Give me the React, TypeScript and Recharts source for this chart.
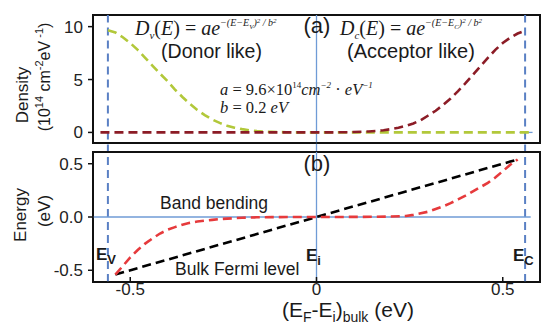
import React from 'react';
import { LineChart, Line, XAxis, YAxis, ReferenceLine, ReferenceArea } from 'recharts';

// ---- data ----
const xTicks = [-0.5, 0, 0.5];
const densityTicks = [0, 5, 10];
const energyTicks = [-0.5, 0, 0.5];
const Ev = -0.56;
const Ec = 0.56;

const donorE = [-0.56, -0.54, -0.52, -0.5, -0.48, -0.46, -0.44, -0.42, -0.4, -0.38, -0.36, -0.34, -0.32, -0.3, -0.28, -0.26, -0.24, -0.22, -0.2, -0.18, -0.16, -0.14, -0.12, -0.1, -0.08, -0.04, 0, 0.58];
const donorD = [9.65, 9.45, 9.0, 8.45, 7.8, 7.05, 6.3, 5.55, 4.85, 4.05, 3.35, 2.7, 2.12, 1.64, 1.22, 0.9, 0.64, 0.45, 0.31, 0.2, 0.13, 0.08, 0.05, 0.03, 0.015, 0, 0, 0];

const acceptorE = [-0.58, 0, 0.04, 0.08, 0.1, 0.12, 0.14, 0.16, 0.18, 0.2, 0.22, 0.24, 0.26, 0.28, 0.3, 0.32, 0.34, 0.36, 0.38, 0.4, 0.42, 0.44, 0.46, 0.48, 0.5, 0.52, 0.54, 0.56];
const acceptorD = [0, 0, 0.005, 0.02, 0.04, 0.06, 0.09, 0.14, 0.21, 0.31, 0.44, 0.62, 0.85, 1.15, 1.6, 2.05, 2.6, 3.2, 3.9, 4.65, 5.45, 6.25, 7.05, 7.8, 8.45, 8.95, 9.35, 9.6];

const bendE = [-0.54, -0.52, -0.5, -0.48, -0.46, -0.44, -0.42, -0.4, -0.38, -0.36, -0.34, -0.32, -0.3, -0.28, -0.26, -0.24, -0.22, -0.2, -0.16, -0.12, 0, 0.12, 0.16, 0.2, 0.24, 0.26, 0.28, 0.3, 0.32, 0.34, 0.36, 0.38, 0.4, 0.42, 0.44, 0.46, 0.48, 0.5, 0.52, 0.54];
const bendV = [-0.54, -0.46, -0.38, -0.31, -0.25, -0.2, -0.155, -0.12, -0.095, -0.072, -0.055, -0.043, -0.034, -0.027, -0.02, -0.015, -0.011, -0.007, -0.003, -0.001, 0, 0.001, 0.002, 0.004, 0.01, 0.02, 0.035, 0.05, 0.075, 0.1, 0.13, 0.165, 0.2, 0.24, 0.28, 0.32, 0.37, 0.43, 0.49, 0.54];

const fermiE = [-0.54, 0, 0.54];
const fermiV = [-0.54, 0, 0.54];

const toPts = (xs: number[], ys: number[]) => xs.map((x, i) => ({ x, y: ys[i] }));
const donorData = toPts(donorE, donorD);
const acceptorData = toPts(acceptorE, acceptorD);
const bendData = toPts(bendE, bendV);
const fermiData = toPts(fermiE, fermiV);

// ---- styles ----
const SANS = 'Liberation Sans, Arial, sans-serif';
const SERIF = 'Liberation Serif, Times New Roman, serif';
const GREEN = '#b2c83a';
const DARKRED = '#8c1c26';
const RED = '#e63a3c';
const BLUE_DASH = '#5a80c4';
const BLUE_THIN = '#6f9bd6';
const INK = '#111';
const tickStyle = { fontSize: 17, fill: '#222', fontFamily: SANS };

export default function App() {
  return (
    <div style={{ position: 'absolute', left: 0, top: 0, width: 544, height: 324, background: '#fff' }}>
      {/* Top panel: density */}
      <div style={{ position: 'absolute', left: 0, top: 0 }}>
        <LineChart width={544} height={160} margin={{ top: 15, right: 0, bottom: 0, left: 0 }}>
          <XAxis type="number" dataKey="x" domain={[-0.6, 0.6]} ticks={xTicks} height={17} tick={false}
            tickSize={-5} stroke={INK} strokeWidth={1.5} axisLine tickLine allowDataOverflow />
          <XAxis xAxisId="top" orientation="top" type="number" dataKey="x" domain={[-0.6, 0.6]} ticks={xTicks}
            height={0} tick={false} tickSize={-5} stroke={INK} strokeWidth={1.5} axisLine tickLine allowDataOverflow />
          <YAxis type="number" domain={[-1, 11.1]} ticks={densityTicks} width={93} tickSize={5} tickMargin={5}
            tick={tickStyle} stroke={INK} strokeWidth={1.5} axisLine tickLine allowDataOverflow />
          <YAxis yAxisId="right" orientation="right" type="number" domain={[-1, 11.1]} width={4} tick={false}
            tickLine={false} stroke={INK} strokeWidth={2} axisLine />
          <ReferenceArea x1={-0.6} x2={0.6} y1={-1} y2={11.1} fill="none" fillOpacity={0} stroke={INK}
            strokeWidth={2} ifOverflow="visible" />
          <ReferenceLine segment={[{ x: Ev, y: -1.9 }, { x: Ev, y: 11.1 }]} stroke={BLUE_DASH} strokeWidth={2}
            strokeDasharray="8 5" ifOverflow="visible" />
          <ReferenceLine segment={[{ x: Ec, y: -1.9 }, { x: Ec, y: 11.1 }]} stroke={BLUE_DASH} strokeWidth={2}
            strokeDasharray="8 5" ifOverflow="visible" />
          <ReferenceLine segment={[{ x: 0, y: -1.9 }, { x: 0, y: 11.1 }]} stroke={BLUE_THIN} strokeWidth={1.3}
            ifOverflow="visible" />
          <ReferenceLine segment={[{ x: 0.545, y: 0 }, { x: 0.58, y: 0 }]} stroke={BLUE_THIN} strokeWidth={1.3}
            ifOverflow="visible" />
          <Line data={donorData} dataKey="y" type="linear" stroke={GREEN} strokeWidth={2.6}
            strokeDasharray="9 5" dot={false} isAnimationActive={false} />
          <Line data={acceptorData} dataKey="y" type="linear" stroke={DARKRED} strokeWidth={2.6}
            strokeDasharray="9 5" dot={false} isAnimationActive={false} />
        </LineChart>
      </div>

      {/* Bottom panel: energy */}
      <div style={{ position: 'absolute', left: 0, top: 140 }}>
        <LineChart width={544} height={184} margin={{ top: 12, right: 0, bottom: 0, left: 0 }}>
          <XAxis type="number" dataKey="x" domain={[-0.6, 0.6]} ticks={xTicks} height={42} tick={tickStyle}
            tickSize={-5} tickMargin={6} stroke={INK} strokeWidth={1.5} axisLine tickLine allowDataOverflow />
          <XAxis xAxisId="top" orientation="top" type="number" dataKey="x" domain={[-0.6, 0.6]} ticks={xTicks}
            height={0} tick={false} tickSize={-5} stroke={INK} strokeWidth={1.5} axisLine tickLine allowDataOverflow />
          <YAxis type="number" domain={[-0.61, 0.61]} ticks={energyTicks} width={93} tickSize={5} tickMargin={5}
            tick={tickStyle} tickFormatter={(v: number) => v.toFixed(1)} stroke={INK} strokeWidth={1.5}
            axisLine tickLine allowDataOverflow />
          <YAxis yAxisId="right" orientation="right" type="number" domain={[-0.61, 0.61]} width={4} tick={false}
            tickLine={false} stroke={INK} strokeWidth={2} axisLine />
          <ReferenceArea x1={-0.6} x2={0.6} y1={-0.61} y2={0.61} fill="none" fillOpacity={0} stroke={INK}
            strokeWidth={2} ifOverflow="visible" />
          <ReferenceLine x={Ev} stroke={BLUE_DASH} strokeWidth={2} strokeDasharray="8 5" />
          <ReferenceLine x={Ec} stroke={BLUE_DASH} strokeWidth={2} strokeDasharray="8 5" />
          <ReferenceLine x={0} stroke={BLUE_THIN} strokeWidth={1.3} />
          <ReferenceLine segment={[{ x: -0.6, y: 0 }, { x: 0.575, y: 0 }]} stroke={BLUE_THIN} strokeWidth={1.3}
            ifOverflow="visible" />
          <Line data={fermiData} dataKey="y" type="linear" stroke="#000" strokeWidth={2.6}
            strokeDasharray="9 5" dot={false} isAnimationActive={false} />
          <Line data={bendData} dataKey="y" type="linear" stroke={RED} strokeWidth={2.6}
            strokeDasharray="9 5" dot={false} isAnimationActive={false} />
        </LineChart>
      </div>

      {/* Annotations */}
      <svg width={544} height={324} style={{ position: 'absolute', left: 0, top: 0, pointerEvents: 'none' }}>
        <g fill="#1a1a1a">
          {/* axis titles */}
          <text transform="translate(27.5,95) rotate(-90)" textAnchor="middle" fontFamily={SANS} fontSize={17}>Density</text>
          <text transform="translate(50,77) rotate(-90)" textAnchor="middle" fontFamily={SANS} fontSize={16}>
            <tspan>(10</tspan><tspan fontSize={11} dy={-7}>14</tspan><tspan dy={7}> cm</tspan>
            <tspan fontSize={11} dy={-7}>-2</tspan><tspan dy={7}>eV</tspan>
            <tspan fontSize={11} dy={-7}> -1</tspan><tspan dy={7}>)</tspan>
          </text>
          <text transform="translate(26,215) rotate(-90)" textAnchor="middle" fontFamily={SANS} fontSize={17}>Energy</text>
          <text transform="translate(50,211) rotate(-90)" textAnchor="middle" fontFamily={SANS} fontSize={17}>(eV)</text>

          {/* x label */}
          <text x={282} y={317} fontFamily={SANS} fontSize={21}>
            <tspan>(E</tspan><tspan fontSize={14} dy={5}>F</tspan><tspan dy={-5}>-E</tspan>
            <tspan fontSize={14} dy={5}>i</tspan><tspan dy={-5}>)</tspan>
            <tspan fontSize={14} dy={5}>bulk</tspan><tspan dy={-5}> (eV)</tspan>
          </text>

          {/* panel letters */}
          <text x={317} y={33} textAnchor="middle" fontFamily={SANS} fontSize={22}>(a)</text>
          <text x={317} y={171} textAnchor="middle" fontFamily={SANS} fontSize={22}>(b)</text>

          {/* formulas */}
          <text x={135} y={35} fontFamily={SERIF} fontStyle="italic" fontSize={20}>
            <tspan>D</tspan><tspan fontSize={11} dy={4}>v</tspan>
            <tspan dy={-4} fontStyle="normal">(</tspan><tspan>E</tspan><tspan fontStyle="normal">) = </tspan>
            <tspan>ae</tspan>
            <tspan fontSize={10} dy={-9}>−(E−E</tspan><tspan fontSize={7} dy={3}>V</tspan>
            <tspan fontSize={10} dy={-3}>)</tspan><tspan fontSize={7} dy={-3}>2</tspan>
            <tspan fontSize={10} dy={3}> / b</tspan><tspan fontSize={7} dy={-3}>2</tspan>
          </text>
          <text x={340} y={35} fontFamily={SERIF} fontStyle="italic" fontSize={20}>
            <tspan>D</tspan><tspan fontSize={11} dy={4}>c</tspan>
            <tspan dy={-4} fontStyle="normal">(</tspan><tspan>E</tspan><tspan fontStyle="normal">) = </tspan>
            <tspan>ae</tspan>
            <tspan fontSize={10} dy={-9}>−(E−E</tspan><tspan fontSize={7} dy={3}>C</tspan>
            <tspan fontSize={10} dy={-3}>)</tspan><tspan fontSize={7} dy={-3}>2</tspan>
            <tspan fontSize={10} dy={3}> / b</tspan><tspan fontSize={7} dy={-3}>2</tspan>
          </text>
          <text x={211.5} y={58} textAnchor="middle" fontFamily={SANS} fontSize={19.5}>(Donor like)</text>
          <text x={411} y={58} textAnchor="middle" fontFamily={SANS} fontSize={20}>(Acceptor like)</text>

          <text x={220} y={95} fontFamily={SERIF} fontSize={16.5}>
            <tspan fontStyle="italic">a</tspan><tspan> = 9.6×10</tspan>
            <tspan fontSize={9} dy={-7}>14</tspan>
            <tspan fontStyle="italic" dy={7}>cm</tspan><tspan fontStyle="italic" fontSize={9} dy={-7}>−2</tspan>
            <tspan dy={7}> · </tspan><tspan fontStyle="italic">eV</tspan>
            <tspan fontStyle="italic" fontSize={9} dy={-7}>−1</tspan>
          </text>
          <text x={220} y={113} fontFamily={SERIF} fontSize={16.5}>
            <tspan fontStyle="italic">b</tspan><tspan> = 0.2  </tspan><tspan fontStyle="italic">eV</tspan>
          </text>

          {/* bottom annotations */}
          <text x={160} y={208.5} fontFamily={SANS} fontSize={17.5}>Band bending</text>
          <text x={175} y={275} fontFamily={SANS} fontSize={17.5}>Bulk Fermi level</text>
          <text x={96} y={260} fontFamily={SANS} fontSize={17} fontWeight="bold">
            <tspan>E</tspan><tspan fontSize={13} dy={4}>V</tspan>
          </text>
          <text x={306} y={261} fontFamily={SANS} fontSize={17} fontWeight="bold">
            <tspan>E</tspan><tspan fontSize={13} dy={4}>i</tspan>
          </text>
          <text x={513} y={261} fontFamily={SANS} fontSize={17} fontWeight="bold">
            <tspan>E</tspan><tspan fontSize={13} dy={4}>C</tspan>
          </text>
        </g>
      </svg>
    </div>
  );
}
